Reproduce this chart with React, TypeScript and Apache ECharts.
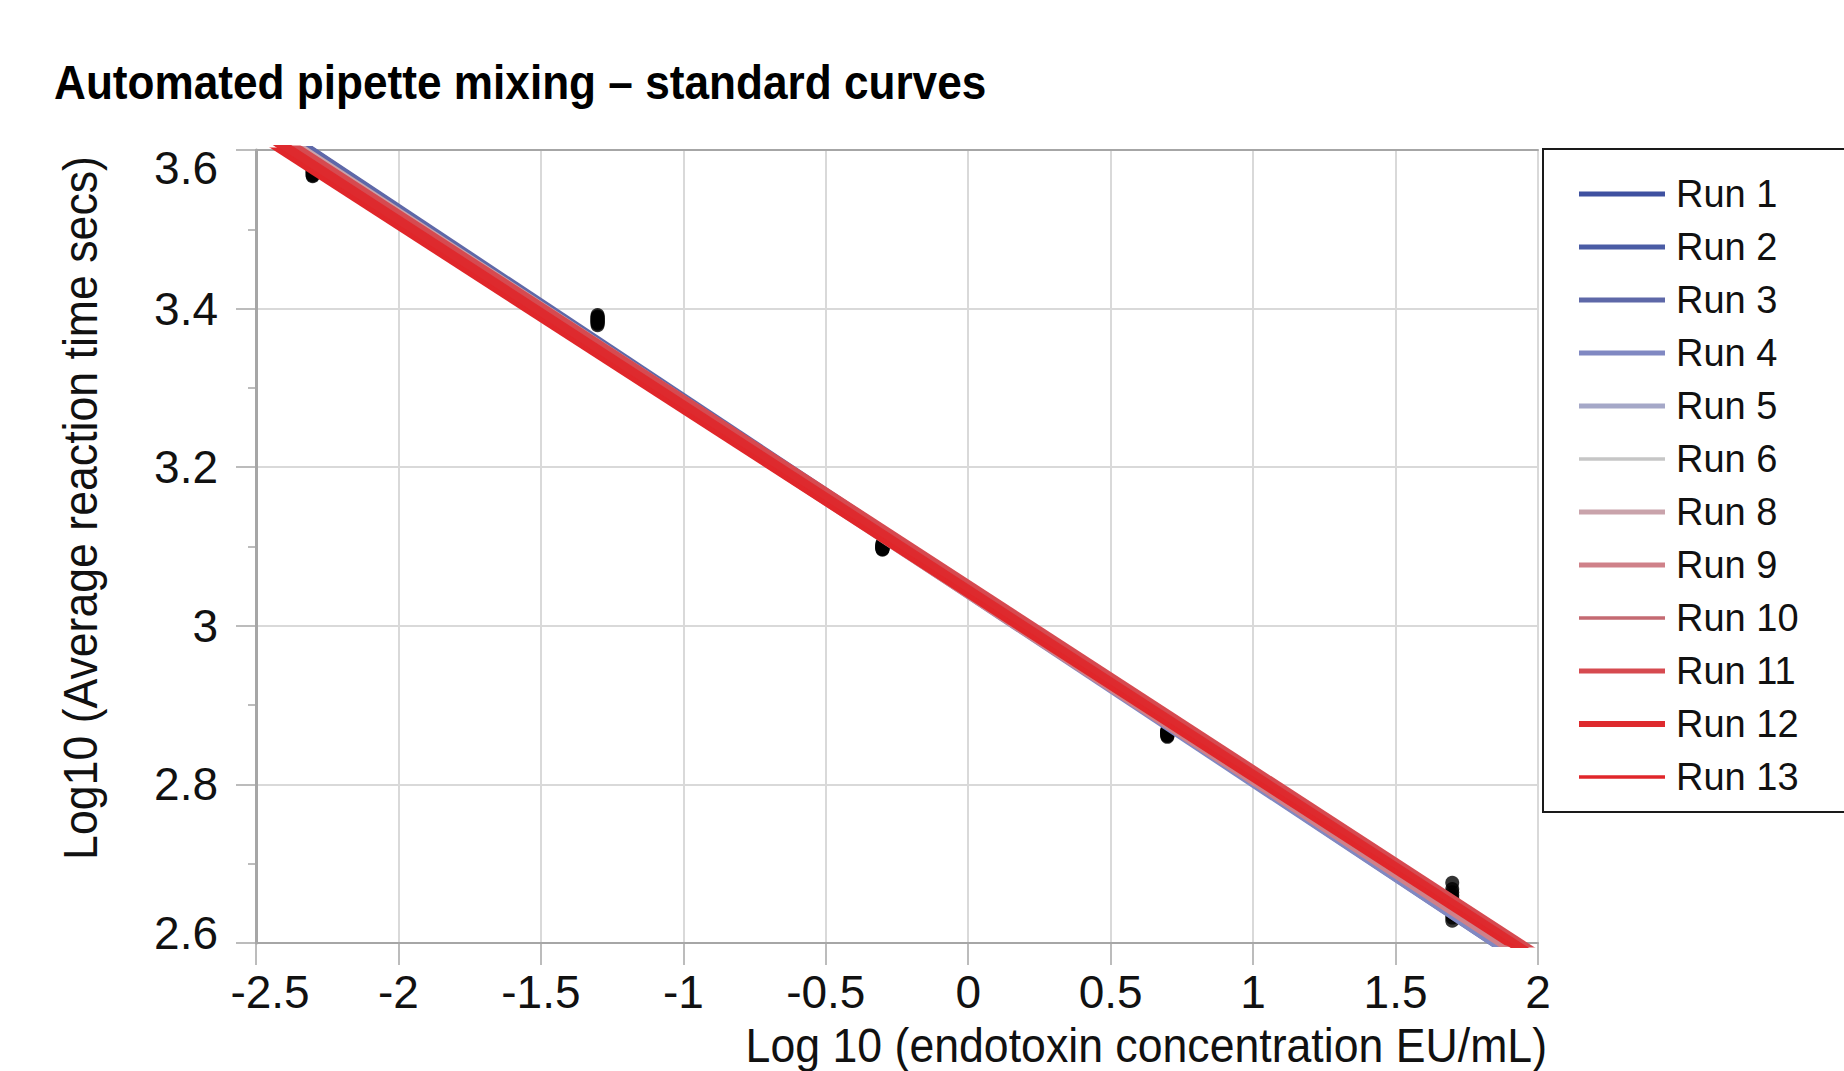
import React, { useEffect, useRef } from "react";
import * as echarts from "echarts";

const RUN_NAMES = ["Run 1", "Run 2", "Run 3", "Run 4", "Run 5", "Run 6", "Run 8", "Run 9", "Run 10", "Run 11", "Run 12", "Run 13"];
const RUN_COLORS = ["#3f51a0", "#4a5ca5", "#5e68a8", "#8088c2", "#a5a8c8", "#c6c6c6", "#c9a3ab", "#cf8189", "#c46a72", "#d64a50", "#de2a2e", "#e0262a"];
const RUN_WIDTHS = [8, 8, 8, 8, 8, 4, 8, 8, 5, 9, 10, 5];
const LEGEND_WIDTHS = [5, 5, 5, 5, 5, 3.5, 5, 5, 3.5, 5, 6, 3.5];
// fitted standard curves: y = intercept + slope * x
const RUN_SLOPES = [-0.2395, -0.239, -0.2385, -0.238, -0.2375, -0.237, -0.236, -0.235, -0.234, -0.2335, -0.233, -0.232];
const RUN_INTERCEPTS = [3.047, 3.041, 3.05, 3.039, 3.045, 3.044, 3.05, 3.039, 3.047, 3.052, 3.045, 3.038];

// log10 of the endotoxin standards (0.005, 0.05, 0.5, 5, 50 EU/mL)
const LOG_CONC = [-2.301, -1.301, -0.301, 0.699, 1.699];
// measured points, one value per run at each standard
const DOTS_C1 = [3.58, 3.578, 3.576, 3.575, 3.574, 3.573, 3.572, 3.571, 3.57, 3.569, 3.568, 3.567];
const DOTS_C2 = [3.392, 3.39, 3.389, 3.388, 3.387, 3.386, 3.385, 3.384, 3.383, 3.382, 3.381, 3.379];
const DOTS_C3 = [3.104, 3.103, 3.102, 3.101, 3.1, 3.1, 3.099, 3.099, 3.098, 3.097, 3.097, 3.096];
const DOTS_C4 = [2.86, 2.861, 2.862, 2.863, 2.864, 2.865, 2.865, 2.866, 2.866, 2.867, 2.868, 2.869];
const DOTS_C5 = [2.628, 2.632, 2.636, 2.64, 2.644, 2.648, 2.652, 2.656, 2.66, 2.664, 2.668, 2.676];
const DOTS = [DOTS_C1, DOTS_C2, DOTS_C3, DOTS_C4, DOTS_C5];

const X_MIN = -2.5;
const X_MAX = 2;
const X_STEP = 0.5;
const Y_MIN = 2.6;
const Y_MAX = 3.6;
const Y_STEP = 0.2;

const TITLE = "Automated pipette mixing \u2013 standard curves";
const Y_TITLE = "Log10 (Average reaction time secs)";
const X_TITLE = "Log 10 (endotoxin concentration EU/mL)";

const FONT = "'Liberation Sans', Arial, sans-serif";

const fmt = (v: number) => String(parseFloat(v.toFixed(3)));

export default function App() {
  const ref = useRef<HTMLDivElement>(null);
  useEffect(() => {
    if (!ref.current) return;
    const chart = echarts.init(ref.current, undefined, { renderer: "svg" });

    const scatterData: number[][] = [];
    LOG_CONC.forEach((x, i) => DOTS[i].forEach((y) => scatterData.push([x, y])));

    const lineSeries = RUN_NAMES.map((name, i) => ({
      name,
      type: "line",
      symbol: "none",
      showSymbol: false,
      clip: true,
      z: 3,
      lineStyle: { color: RUN_COLORS[i], width: RUN_WIDTHS[i] },
      itemStyle: { color: RUN_COLORS[i] },
      data: [
        [X_MIN, RUN_INTERCEPTS[i] + RUN_SLOPES[i] * X_MIN],
        [X_MAX, RUN_INTERCEPTS[i] + RUN_SLOPES[i] * X_MAX],
      ],
    }));

    const legendData = RUN_NAMES.map((name, i) => ({
      name,
      icon: `path://M0 0H86V${LEGEND_WIDTHS[i]}H0Z`,
      itemStyle: { color: RUN_COLORS[i] },
    }));

    const tickFont = { fontSize: 46, fontFamily: FONT, color: "#111" };

    chart.setOption({
      animation: false,
      backgroundColor: "#ffffff",
      grid: { left: 256, right: 306, top: 150, bottom: 128, containLabel: false },
      xAxis: [
        {
          type: "value",
          min: X_MIN,
          max: X_MAX,
          interval: X_STEP,
          axisLine: { show: true, onZero: false, lineStyle: { color: "#a6a6a6", width: 2 } },
          axisTick: { show: true, length: 22, lineStyle: { color: "#a6a6a6", width: 1.5 } },
          axisLabel: {
            ...tickFont,
            margin: 26,
            formatter: (v: number) => (Math.abs(v - X_MIN) < 1e-6 ? `{first|${fmt(v)}}` : fmt(v)),
            rich: { first: { ...tickFont, padding: [0, 0, 0, 28] } },
          },
          splitLine: { show: true, lineStyle: { color: "#d9d9d9", width: 2 } },
        },
        {
          type: "value",
          position: "top",
          min: X_MIN,
          max: X_MAX,
          interval: X_STEP,
          axisLine: { show: true, onZero: false, lineStyle: { color: "#a6a6a6", width: 2 } },
          axisTick: { show: false },
          axisLabel: { show: false },
          splitLine: { show: false },
        },
      ],
      yAxis: {
        type: "value",
        min: Y_MIN,
        max: Y_MAX,
        interval: Y_STEP,
        axisLine: { show: true, onZero: false, lineStyle: { color: "#a6a6a6", width: 3 } },
        axisTick: { show: true, length: 20, lineStyle: { color: "#a6a6a6", width: 1.5 } },
        minorTick: { show: true, splitNumber: 2, length: 8, lineStyle: { color: "#a6a6a6", width: 1.5 } },
        axisLabel: {
          ...tickFont,
          margin: 38,
          formatter: (v: number) => {
            if (Math.abs(v - Y_MAX) < 1e-6) return `{top|${fmt(v)}}`;
            if (Math.abs(v - Y_MIN) < 1e-6) return `{bot|${fmt(v)}}`;
            return fmt(v);
          },
          rich: {
            top: { ...tickFont, padding: [36, 0, 0, 0] },
            bot: { ...tickFont, padding: [0, 0, 20, 0] },
          },
        },
        splitLine: { show: true, lineStyle: { color: "#d9d9d9", width: 2 } },
      },
      legend: {
        data: legendData,
        orient: "vertical",
        left: 1579,
        top: 174,
        padding: 0,
        itemWidth: 86,
        itemHeight: 14,
        itemGap: 13,
        symbolKeepAspect: true,
        textStyle: { fontSize: 38, fontFamily: FONT, color: "#111", lineHeight: 40, padding: [0, 0, 0, 6] },
      },
      graphic: [
        {
          type: "rect",
          z: 1,
          shape: { x: 1543, y: 149, width: 330, height: 663 },
          style: { fill: "#ffffff", stroke: "#1a1a1a", lineWidth: 2 },
        },
        {
          type: "text",
          x: 54,
          y: 82,
          scaleX: 0.92,
          style: { text: TITLE, font: `bold 48px ${FONT}`, fill: "#000", textAlign: "left", textVerticalAlign: "middle" },
        },
        {
          type: "text",
          x: 80,
          y: 508,
          rotation: Math.PI / 2,
          scaleX: 0.93,
          style: { text: Y_TITLE, font: `48px ${FONT}`, fill: "#111", textAlign: "center", textVerticalAlign: "middle" },
        },
        {
          type: "text",
          x: 1547,
          y: 1045,
          scaleX: 0.93,
          style: { text: X_TITLE, font: `48px ${FONT}`, fill: "#111", textAlign: "right", textVerticalAlign: "middle" },
        },
      ],
      series: [
        {
          name: "points",
          type: "scatter",
          symbol: "circle",
          symbolSize: 14,
          z: 2,
          itemStyle: { color: "#000" },
          data: scatterData,
        },
        ...lineSeries,
      ],
    });
    return () => chart.dispose();
  }, []);
  return <div ref={ref} style={{ position: "fixed", left: 0, top: 0, width: 1844, height: 1071 }} />;
}
